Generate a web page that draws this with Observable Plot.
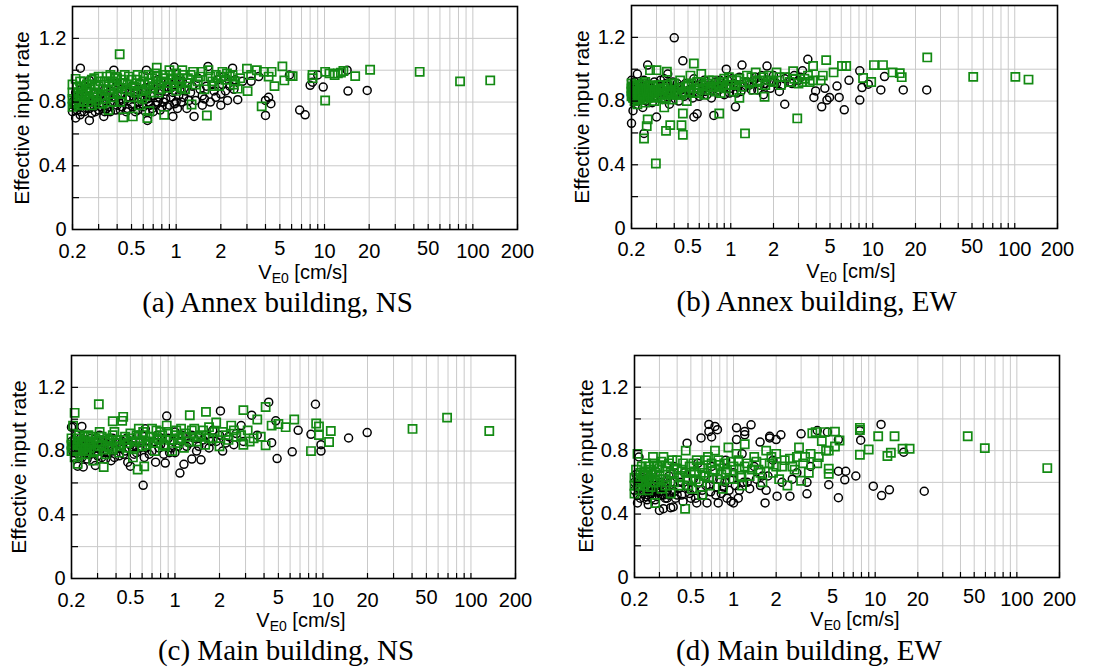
<!DOCTYPE html>
<html><head><meta charset="utf-8">
<script src="https://cdn.jsdelivr.net/npm/d3@7"></script>
<script src="https://cdn.jsdelivr.net/npm/@observablehq/plot@0.6"></script>
<style>
body{margin:0;background:#fff;}
#root{position:relative;width:1107px;height:670px;overflow:hidden;background:#fff;}
.p{position:absolute;}
.yt{position:absolute;font-family:"Liberation Sans",Arial,sans-serif;font-size:21px;white-space:nowrap;transform:translate(-50%,-50%) rotate(-90deg);line-height:21px;color:#000;}
.xt{position:absolute;font-family:"Liberation Sans",Arial,sans-serif;font-size:20px;white-space:nowrap;transform:translateX(-50%);line-height:16px;color:#000;}
.xt sub{font-size:14px;vertical-align:-4px;line-height:0;}
.cap{position:absolute;font-family:"Liberation Serif","Times New Roman",serif;font-size:29px;white-space:nowrap;transform:translateX(-50%);line-height:29px;color:#000;}
</style></head>
<body><div id="root"></div>
<script>
// ---- tick / grid values ----
const xGrid = [0.2,0.3,0.4,0.5,0.6,0.7,0.8,0.9,1,2,3,4,5,6,7,8,9,10,20,30,40,50,60,70,80,90,100,200];
const xLabelsLow = [0.2,1,2,10,20,100,200];
const xLabelsHigh = [0.5,5,50];
const yGrid = [0.2,0.4,0.6,0.8,1.0,1.2];
const yLabels = [0,0.4,0.8,1.2];
const captions = ["(a) Annex building, NS","(b) Annex building, EW","(c) Main building, NS","(d) Main building, EW"];
const yTitle = "Effective input rate";

// ---- data: [V_E0, effective input rate] ----
const annexNS_circle = [[0.20,0.74],[0.20,0.80],[0.21,0.70],[0.21,0.86],[0.22,0.77],[0.226,1.013],[0.23,0.82],[0.23,0.74],[0.24,0.79],[0.24,0.90],[0.25,0.76],[0.26,0.685],[0.26,0.936],[0.26,0.84],[0.27,0.73],[0.27,0.80],[0.28,0.77],[0.29,0.86],[0.30,0.75],[0.30,0.82],[0.325,0.71],[0.32,0.79],[0.33,0.88],[0.34,0.76],[0.35,0.83],[0.36,0.74],[0.37,0.80],[0.38,1.00],[0.38,0.86],[0.40,0.78],[0.40,0.92],[0.42,0.75],[0.42,0.84],[0.44,0.80],[0.45,0.88],[0.47,0.76],[0.48,0.83],[0.50,0.79],[0.50,0.90],[0.53,0.74],[0.53,0.85],[0.56,0.80],[0.57,0.92],[0.60,0.77],[0.60,0.86],[0.63,1.00],[0.64,0.685],[0.64,0.82],[0.67,0.78],[0.67,0.90],[0.70,0.74],[0.71,0.84],[0.75,0.80],[0.75,0.94],[0.80,0.77],[0.80,0.87],[0.85,0.82],[0.88,0.92],[0.90,0.78],[0.95,0.71],[0.95,0.86],[0.97,1.02],[1.0,0.80],[1.0,0.94],[1.02,0.76],[1.06,0.88],[1.12,0.83],[1.18,0.76],[1.2,0.92],[1.25,0.86],[1.32,0.71],[1.35,0.81],[1.4,0.95],[1.5,0.84],[1.5,0.78],[1.6,0.90],[1.64,1.024],[1.7,0.80],[1.8,0.87],[1.9,0.94],[2.0,0.78],[2.0,0.85],[2.1,0.96],[2.22,0.81],[2.3,0.90],[2.4,1.013],[2.6,0.815],[2.8,0.93],[3.2,0.93],[3.6,0.96],[4.0,0.716],[4.0,0.81],[4.35,0.79],[4.2,0.83],[5.8,0.97],[6.8,0.75],[7.4,0.72],[8.0,0.905],[8.3,0.925],[9.0,0.97],[9.8,0.894],[14.2,1.0],[14.4,0.869],[19.4,0.873],
 [0.205,0.78],[0.21,0.82],[0.215,0.75],[0.22,0.84],[0.225,0.72],[0.23,0.88],[0.235,0.78],[0.24,0.74],[0.245,0.83],[0.25,0.80],[0.255,0.87],[0.26,0.76],[0.265,0.81],[0.275,0.85],[0.285,0.74],[0.29,0.80],[0.31,0.77],[0.31,0.85],[0.33,0.74],[0.34,0.82],[0.35,0.77],[0.36,0.87],[0.39,0.75],[0.39,0.83],[0.41,0.80],[0.43,0.77],[0.43,0.88],[0.46,0.74],[0.46,0.82],[0.49,0.86],[0.51,0.77],[0.52,0.82],[0.55,0.75],[0.55,0.88],[0.58,0.83],[0.59,0.79],[0.62,0.74],[0.62,0.89],[0.65,0.80],[0.68,0.84],[0.69,0.76],[0.72,0.88],[0.73,0.78],[0.77,0.83],[0.78,0.75],[0.82,0.80],[0.83,0.89],[0.87,0.77],[0.92,0.83],[0.93,0.89],[0.98,0.79],[1.04,0.84],[1.08,0.80],[1.1,0.93],[1.15,0.87],[1.22,0.81],[1.28,0.90],[1.45,0.88],[1.55,0.82],[1.75,0.91],[1.85,0.83],[2.05,0.91],[2.15,0.87],[2.5,0.94],[2.45,0.88]];
const annexNS_square = [[0.20,0.82],[0.20,0.77],[0.21,0.946],[0.21,0.80],[0.22,0.86],[0.22,0.78],[0.23,0.90],[0.23,0.83],[0.24,0.80],[0.24,0.93],[0.25,0.87],[0.26,0.82],[0.26,0.91],[0.27,0.78],[0.28,0.95],[0.28,0.86],[0.29,0.81],[0.30,0.90],[0.30,0.96],[0.31,0.84],[0.32,0.79],[0.33,0.93],[0.34,0.87],[0.35,0.75],[0.36,0.97],[0.37,0.83],[0.38,0.90],[0.40,0.86],[0.40,0.95],[0.416,1.10],[0.42,0.80],[0.44,0.705],[0.44,0.92],[0.46,0.88],[0.48,0.96],[0.49,0.83],[0.51,0.71],[0.52,0.90],[0.54,0.94],[0.56,0.78],[0.58,0.87],[0.60,0.96],[0.62,0.84],[0.64,0.70],[0.66,0.743],[0.66,0.92],[0.70,0.89],[0.72,0.98],[0.74,1.016],[0.76,0.86],[0.80,0.93],[0.83,0.72],[0.84,0.97],[0.88,0.89],[0.90,1.0],[0.95,0.94],[1.0,0.87],[1.0,0.98],[1.05,0.92],[1.1,1.0],[1.15,0.88],[1.2,0.95],[1.27,0.785],[1.3,0.99],[1.35,0.91],[1.45,0.96],[1.55,0.88],[1.61,0.716],[1.65,1.0],[1.75,0.93],[1.85,0.97],[1.95,0.90],[2.05,0.99],[2.15,0.94],[2.3,0.96],[2.45,0.91],[2.6,0.884],[2.7,0.95],[3.0,1.01],[3.03,0.869],[3.2,0.97],[3.5,1.0],[3.77,0.773],[3.9,0.99],[4.2,0.96],[4.4,0.99],[4.6,0.90],[5.2,1.024],[5.36,0.936],[5.9,0.963],[6.1,0.963],[8.3,0.97],[8.3,0.95],[10.1,0.99],[10.1,0.81],[10.8,0.98],[11.7,0.97],[12.3,0.98],[12.9,0.985],[13.4,0.995],[16.1,0.963],[20.3,1.003],[43.8,0.99],[82,0.93],[131,0.936],
 [0.20,0.86],[0.20,0.91],[0.205,0.79],[0.215,0.84],[0.215,0.89],[0.225,0.81],[0.225,0.93],[0.235,0.86],[0.235,0.78],[0.245,0.84],[0.25,0.91],[0.255,0.80],[0.265,0.88],[0.27,0.94],[0.275,0.83],[0.285,0.90],[0.29,0.85],[0.30,0.79],[0.31,0.93],[0.32,0.88],[0.33,0.82],[0.34,0.96],[0.35,0.90],[0.36,0.85],[0.37,0.93],[0.38,0.80],[0.39,0.96],[0.41,0.89],[0.43,0.94],[0.43,0.85],[0.45,0.97],[0.47,0.91],[0.49,0.87],[0.50,0.94],[0.53,0.86],[0.55,0.97],[0.57,0.91],[0.59,0.82],[0.61,0.93],[0.63,0.88],[0.65,0.97],[0.68,0.86],[0.69,0.95],[0.73,0.91],[0.75,0.96],[0.78,0.88],[0.82,0.95],[0.86,0.92],[0.92,0.97],[0.97,0.90],[1.03,0.95],[1.08,0.89],[1.12,0.97],[1.18,0.92],[1.25,0.97],[1.4,0.93],[1.5,0.99],[1.7,0.96],[1.8,0.90],[2.0,0.96],[2.2,0.98],[2.4,0.97],[2.5,0.93]];
const annexEW_circle = [[0.20,0.93],[0.20,0.84],[0.20,0.66],[0.205,0.74],[0.21,0.88],[0.22,0.80],[0.22,0.97],[0.23,0.86],[0.24,0.76],[0.245,0.597],[0.25,0.90],[0.26,1.026],[0.26,0.83],[0.27,0.87],[0.28,0.79],[0.29,0.92],[0.30,0.85],[0.30,0.70],[0.32,0.89],[0.33,0.81],[0.34,0.94],[0.35,0.86],[0.36,0.97],[0.37,0.78],[0.38,0.88],[0.40,1.197],[0.40,0.84],[0.42,0.91],[0.43,0.80],[0.45,0.87],[0.46,1.053],[0.47,0.83],[0.50,0.90],[0.52,0.85],[0.55,0.70],[0.55,0.94],[0.58,0.72],[0.58,0.88],[0.60,0.83],[0.63,0.91],[0.66,0.86],[0.70,0.89],[0.73,0.82],[0.76,0.71],[0.78,0.92],[0.82,0.87],[0.86,0.90],[0.90,0.84],[0.93,1.0],[0.95,0.93],[1.0,0.88],[1.05,0.91],[1.08,0.764],[1.1,0.85],[1.15,0.95],[1.2,1.026],[1.25,0.89],[1.3,0.92],[1.4,0.87],[1.5,0.95],[1.6,0.90],[1.7,0.84],[1.8,1.02],[1.8,0.93],[1.9,0.88],[2.0,0.96],[2.1,0.91],[2.2,0.86],[2.4,0.78],[2.4,0.94],[2.6,0.92],[2.8,0.96],[3.0,0.93],[3.2,0.99],[3.49,1.062],[3.85,0.823],[3.96,0.864],[4.37,0.764],[4.6,0.88],[4.76,0.806],[4.96,0.823],[5.6,0.894],[5.8,0.823],[6.3,0.745],[6.8,0.93],[8.1,0.806],[8.1,0.99],[8.4,0.885],[9.3,0.906],[11.4,0.87],[12.1,0.954],[16.4,0.87],[24,0.87],
 [0.20,0.88],[0.205,0.81],[0.21,0.92],[0.215,0.85],[0.22,0.89],[0.225,0.83],[0.23,0.91],[0.235,0.87],[0.24,0.82],[0.245,0.93],[0.25,0.86],[0.255,0.80],[0.265,0.90],[0.27,0.84],[0.28,0.88],[0.29,0.83],[0.31,0.87],[0.32,0.93],[0.33,0.85],[0.35,0.91],[0.36,0.82],[0.38,0.84],[0.39,0.92],[0.41,0.86],[0.44,0.89],[0.46,0.85],[0.48,0.91],[0.51,0.87],[0.54,0.82],[0.57,0.90],[0.62,0.86],[0.65,0.93],[0.68,0.84],[0.74,0.90],[0.80,0.86],[0.84,0.93],[0.88,0.88],[0.98,0.85],[1.02,0.94],[1.12,0.89],[1.18,0.86],[1.35,0.90],[1.45,0.93],[1.55,0.87],[1.65,0.96],[1.75,0.91],[1.95,0.92],[2.3,0.90],[2.5,0.95],[2.7,0.91],[3.1,0.95]];
const annexEW_square = [[0.20,0.88],[0.20,0.83],[0.205,0.86],[0.21,0.80],[0.21,0.90],[0.22,0.84],[0.22,0.78],[0.23,0.88],[0.23,0.82],[0.24,0.91],[0.245,0.565],[0.25,0.85],[0.25,0.79],[0.256,0.643],[0.26,0.685],[0.26,0.89],[0.27,0.994],[0.27,0.83],[0.28,0.87],[0.29,0.80],[0.297,0.408],[0.30,0.994],[0.30,0.86],[0.31,0.90],[0.32,0.82],[0.33,0.88],[0.34,0.76],[0.35,0.613],[0.355,0.984],[0.36,0.85],[0.375,0.649],[0.38,0.91],[0.39,0.81],[0.40,0.87],[0.42,0.84],[0.44,0.93],[0.45,0.649],[0.46,0.588],[0.46,0.722],[0.47,0.86],[0.49,0.80],[0.50,0.90],[0.52,0.96],[0.55,1.036],[0.55,0.85],[0.58,0.92],[0.60,0.88],[0.62,0.97],[0.65,0.84],[0.68,0.91],[0.72,0.87],[0.75,0.93],[0.80,0.89],[0.83,0.722],[0.85,0.85],[0.88,0.92],[0.92,0.88],[0.97,0.95],[1.0,0.90],[1.05,0.86],[1.1,0.93],[1.15,0.82],[1.2,0.89],[1.26,0.597],[1.3,0.96],[1.35,0.91],[1.45,0.87],[1.5,0.98],[1.6,0.93],[1.73,0.827],[1.75,0.90],[1.85,0.96],[2.0,0.92],[2.1,0.98],[2.25,0.90],[2.4,0.95],[2.6,0.92],[2.75,0.988],[2.94,0.691],[3.0,0.91],[3.3,0.94],[3.6,0.92],[3.8,1.02],[3.8,0.93],[4.3,0.93],[4.45,0.96],[4.7,1.057],[5.3,0.98],[6.07,1.02],[6.5,1.02],[8.55,0.945],[9.75,0.92],[10.2,1.026],[11.8,1.026],[13.8,0.98],[15.5,0.975],[16,0.95],[24.2,1.074],[51,0.952],[101,0.952],[125,0.935],
 [0.20,0.86],[0.20,0.91],[0.205,0.82],[0.205,0.89],[0.21,0.85],[0.215,0.88],[0.215,0.82],[0.22,0.90],[0.225,0.86],[0.225,0.81],[0.23,0.85],[0.235,0.90],[0.235,0.84],[0.24,0.86],[0.24,0.81],[0.245,0.88],[0.25,0.92],[0.255,0.86],[0.26,0.82],[0.265,0.87],[0.27,0.90],[0.275,0.85],[0.28,0.82],[0.285,0.89],[0.29,0.86],[0.30,0.83],[0.31,0.87],[0.32,0.90],[0.33,0.84],[0.34,0.88],[0.35,0.82],[0.36,0.90],[0.37,0.86],[0.38,0.84],[0.40,0.91],[0.41,0.85],[0.43,0.88],[0.45,0.84],[0.48,0.89],[0.51,0.86],[0.53,0.91],[0.56,0.88],[0.59,0.85],[0.63,0.90],[0.66,0.87],[0.70,0.93],[0.73,0.89],[0.78,0.86],[0.82,0.91],[0.86,0.89],[0.90,0.94],[0.95,0.90],[1.02,0.93],[1.08,0.90],[1.15,0.94],[1.25,0.92],[1.4,0.95],[1.55,0.92],[1.7,0.95],[1.9,0.93],[2.2,0.95],[2.8,0.94],[3.2,0.92],[3.5,0.96]];
const mainNS_circle = [[0.20,0.95],[0.20,0.82],[0.205,0.955],[0.21,0.76],[0.22,0.705],[0.22,0.86],[0.23,0.80],[0.235,0.955],[0.24,0.70],[0.25,0.84],[0.26,0.78],[0.27,0.88],[0.28,0.74],[0.29,0.71],[0.30,0.82],[0.31,0.90],[0.32,0.76],[0.34,0.85],[0.35,0.79],[0.37,0.74],[0.38,0.88],[0.40,0.81],[0.42,0.77],[0.44,0.86],[0.46,0.80],[0.48,0.73],[0.50,0.705],[0.50,0.84],[0.53,0.78],[0.56,0.90],[0.58,0.82],[0.61,0.585],[0.62,0.76],[0.63,0.94],[0.66,0.86],[0.70,0.80],[0.74,0.73],[0.76,0.90],[0.80,0.84],[0.84,0.78],[0.86,0.725],[0.88,1.02],[0.90,0.88],[0.95,0.82],[1.0,0.92],[1.0,0.79],[1.08,0.662],[1.1,0.86],[1.15,0.717],[1.2,0.83],[1.3,0.75],[1.3,0.90],[1.4,0.80],[1.5,0.745],[1.55,0.87],[1.7,0.82],[1.8,0.93],[1.9,0.86],[2.03,1.052],[2.1,0.80],[2.3,0.89],[2.5,0.84],[2.8,0.96],[2.9,0.86],[3.3,1.025],[3.6,0.90],[4.3,1.107],[4.5,0.853],[4.8,0.99],[4.9,0.753],[6.2,0.795],[6.8,0.93],[8.3,0.905],[8.9,1.094],[9.7,0.80],[9.7,0.84],[14.9,0.882],[19.9,0.916],
 [0.20,0.86],[0.205,0.79],[0.21,0.84],[0.215,0.90],[0.22,0.78],[0.225,0.82],[0.23,0.88],[0.235,0.76],[0.24,0.83],[0.245,0.79],[0.25,0.87],[0.255,0.75],[0.26,0.82],[0.265,0.86],[0.27,0.78],[0.28,0.83],[0.29,0.86],[0.30,0.77],[0.31,0.81],[0.32,0.87],[0.33,0.79],[0.34,0.75],[0.35,0.84],[0.36,0.88],[0.38,0.80],[0.39,0.76],[0.41,0.85],[0.43,0.82],[0.45,0.78],[0.47,0.88],[0.49,0.82],[0.52,0.86],[0.55,0.79],[0.57,0.85],[0.60,0.90],[0.64,0.82],[0.67,0.78],[0.72,0.86],[0.78,0.82],[0.82,0.88],[0.86,0.84],[0.92,0.79],[0.98,0.86],[1.05,0.83],[1.12,0.90],[1.25,0.85],[1.35,0.88],[1.45,0.83],[1.6,0.90],[1.75,0.86],[2.0,0.90],[2.2,0.85],[2.6,0.91]];
const mainNS_square = [[0.20,0.84],[0.20,0.80],[0.205,0.96],[0.21,1.04],[0.21,0.76],[0.22,0.88],[0.22,0.72],[0.23,0.82],[0.24,0.86],[0.25,0.78],[0.26,0.90],[0.27,0.84],[0.28,0.74],[0.29,0.88],[0.30,0.80],[0.306,1.094],[0.31,0.92],[0.32,0.84],[0.33,0.70],[0.34,0.78],[0.35,0.88],[0.36,0.82],[0.38,0.987],[0.38,0.90],[0.40,0.85],[0.42,0.79],[0.44,0.99],[0.447,1.015],[0.45,0.87],[0.47,0.82],[0.50,0.91],[0.52,0.76],[0.54,0.86],[0.56,0.684],[0.57,0.94],[0.60,0.83],[0.62,0.704],[0.63,0.90],[0.66,0.86],[0.70,0.94],[0.73,0.80],[0.76,0.88],[0.80,0.92],[0.84,0.84],[0.88,0.96],[0.92,0.87],[0.96,0.80],[1.0,0.90],[1.05,0.85],[1.1,0.94],[1.15,0.82],[1.2,0.89],[1.26,1.025],[1.3,0.93],[1.4,0.86],[1.5,0.90],[1.62,1.046],[1.6,0.84],[1.7,0.95],[1.8,0.88],[1.9,0.98],[2.0,0.83],[2.1,0.92],[2.3,0.87],[2.4,0.96],[2.6,0.89],[2.9,1.057],[2.9,0.84],[3.1,0.93],[3.4,0.88],[3.6,0.998],[4.1,1.077],[4.1,0.836],[4.5,0.96],[5.0,0.97],[5.6,0.95],[6.4,0.998],[8.3,0.80],[9.0,0.973],[9.4,0.955],[9.4,0.90],[11.0,0.857],[11.3,0.926],[40.3,0.939],[69,1.01],[133,0.926],
 [0.20,0.88],[0.205,0.82],[0.21,0.86],[0.215,0.80],[0.22,0.84],[0.225,0.90],[0.23,0.78],[0.235,0.86],[0.24,0.81],[0.245,0.89],[0.25,0.84],[0.255,0.80],[0.26,0.86],[0.265,0.82],[0.27,0.89],[0.28,0.85],[0.29,0.80],[0.30,0.86],[0.31,0.83],[0.32,0.89],[0.33,0.81],[0.34,0.86],[0.35,0.83],[0.37,0.87],[0.38,0.81],[0.39,0.92],[0.41,0.87],[0.43,0.83],[0.46,0.89],[0.48,0.85],[0.51,0.88],[0.53,0.82],[0.55,0.90],[0.58,0.86],[0.61,0.92],[0.64,0.84],[0.68,0.89],[0.71,0.85],[0.75,0.93],[0.78,0.87],[0.82,0.90],[0.86,0.83],[0.90,0.92],[0.98,0.87],[1.02,0.93],[1.08,0.88],[1.18,0.91],[1.25,0.86],[1.35,0.94],[1.45,0.89],[1.55,0.93],[1.7,0.88],[1.85,0.92],[2.2,0.90],[2.5,0.93],[2.8,0.90],[3.2,0.86],[3.8,0.89]];
const mainEW_circle = [[0.20,0.60],[0.21,0.47],[0.215,0.76],[0.22,0.55],[0.23,0.63],[0.24,0.51],[0.25,0.46],[0.25,0.58],[0.26,0.53],[0.27,0.66],[0.28,0.52],[0.29,0.56],[0.30,0.423],[0.30,0.54],[0.31,0.60],[0.32,0.434],[0.32,0.52],[0.33,0.57],[0.34,0.50],[0.35,0.64],[0.36,0.44],[0.37,0.55],[0.375,0.445],[0.38,0.70],[0.40,0.52],[0.42,0.60],[0.44,0.48],[0.45,0.66],[0.47,0.847],[0.48,0.56],[0.50,0.50],[0.52,0.62],[0.55,0.47],[0.56,0.72],[0.59,0.88],[0.60,0.55],[0.62,0.64],[0.65,0.47],[0.67,0.965],[0.67,0.92],[0.68,0.58],[0.70,0.886],[0.70,0.70],[0.74,0.953],[0.75,0.52],[0.77,0.932],[0.78,0.47],[0.80,0.62],[0.85,0.57],[0.88,0.74],[0.90,0.50],[0.96,0.48],[1.0,0.47],[1.0,0.66],[1.05,0.944],[1.05,0.87],[1.1,0.55],[1.15,0.78],[1.2,0.92],[1.2,0.90],[1.25,0.60],[1.33,0.963],[1.4,0.70],[1.54,0.854],[1.6,0.64],[1.67,0.47],[1.7,0.55],[1.8,0.89],[1.8,0.88],[1.9,0.74],[2.0,0.87],[2.03,0.513],[2.16,0.90],[2.5,0.513],[2.6,0.62],[3.0,0.906],[3.3,0.60],[3.3,0.528],[3.5,0.70],[3.9,0.927],[4.6,0.917],[4.7,0.585],[5.5,0.87],[5.5,0.67],[5.5,0.503],[6.1,0.616],[6.2,0.67],[7.3,0.64],[7.8,0.925],[7.9,0.866],[9.7,0.576],[11.0,0.965],[11.1,0.517],[12.6,0.553],[15.9,0.79],[22.2,0.544],
 [0.20,0.55],[0.205,0.65],[0.21,0.52],[0.215,0.60],[0.22,0.50],[0.225,0.57],[0.23,0.53],[0.235,0.62],[0.24,0.55],[0.245,0.49],[0.25,0.52],[0.255,0.60],[0.26,0.56],[0.265,0.50],[0.27,0.54],[0.275,0.58],[0.28,0.49],[0.285,0.55],[0.29,0.51],[0.30,0.58],[0.31,0.52],[0.32,0.56],[0.33,0.50],[0.34,0.55],[0.35,0.52],[0.36,0.60],[0.38,0.54],[0.39,0.50],[0.41,0.56],[0.43,0.52],[0.46,0.58],[0.49,0.53],[0.52,0.56],[0.54,0.50],[0.57,0.60],[0.61,0.52],[0.64,0.58],[0.69,0.54],[0.72,0.62],[0.76,0.57],[0.82,0.53],[0.87,0.60],[0.93,0.55],[0.98,0.62],[1.03,0.58],[1.08,0.50],[1.18,0.60],[1.3,0.56],[1.45,0.62],[1.55,0.58],[1.75,0.64],[2.2,0.60],[2.8,0.66]];
const mainEW_square = [[0.20,0.63],[0.20,0.53],[0.21,0.78],[0.21,0.58],[0.22,0.66],[0.23,0.60],[0.24,0.72],[0.25,0.55],[0.25,0.64],[0.26,0.68],[0.27,0.76],[0.28,0.47],[0.28,0.60],[0.29,0.70],[0.30,0.64],[0.31,0.56],[0.32,0.76],[0.33,0.67],[0.34,0.60],[0.35,0.72],[0.36,0.53],[0.38,0.66],[0.40,0.74],[0.41,0.58],[0.43,0.68],[0.455,0.433],[0.46,0.80],[0.47,0.62],[0.49,0.70],[0.51,0.56],[0.53,0.66],[0.55,0.74],[0.57,0.60],[0.60,0.52],[0.60,0.69],[0.63,0.64],[0.66,0.76],[0.68,0.58],[0.71,0.67],[0.74,0.80],[0.77,0.62],[0.80,0.71],[0.84,0.56],[0.88,0.66],[0.92,0.82],[0.96,0.73],[1.0,0.62],[1.05,0.78],[1.1,0.68],[1.15,0.58],[1.2,0.84],[1.25,0.72],[1.3,0.64],[1.4,0.76],[1.5,0.68],[1.6,0.60],[1.7,0.80],[1.8,0.72],[1.9,0.66],[2.0,0.78],[2.1,0.62],[2.2,0.70],[2.4,0.58],[2.5,0.75],[2.7,0.68],[2.9,0.82],[3.0,0.61],[3.2,0.76],[3.4,0.66],[3.6,0.91],[3.8,0.917],[3.9,0.72],[4.2,0.86],[4.4,0.917],[4.5,0.80],[4.7,0.80],[4.7,0.686],[4.7,0.654],[5.2,0.92],[5.2,0.826],[5.6,0.864],[7.8,0.944],[7.8,0.93],[7.8,0.774],[9.0,0.807],[10.5,0.891],[12.2,0.766],[12.9,0.787],[13.7,0.891],[15.6,0.812],[17.5,0.812],[45,0.891],[59.4,0.816],[164,0.69],
 [0.20,0.58],[0.205,0.68],[0.21,0.62],[0.215,0.55],[0.22,0.60],[0.225,0.70],[0.23,0.64],[0.235,0.58],[0.24,0.66],[0.245,0.61],[0.25,0.70],[0.255,0.62],[0.26,0.57],[0.265,0.65],[0.27,0.60],[0.275,0.72],[0.28,0.66],[0.29,0.62],[0.30,0.69],[0.31,0.73],[0.32,0.62],[0.33,0.58],[0.34,0.70],[0.36,0.66],[0.37,0.74],[0.38,0.60],[0.40,0.68],[0.42,0.64],[0.44,0.72],[0.46,0.66],[0.48,0.58],[0.50,0.66],[0.52,0.72],[0.54,0.62],[0.58,0.70],[0.62,0.66],[0.64,0.74],[0.67,0.63],[0.70,0.72],[0.74,0.68],[0.78,0.74],[0.82,0.65],[0.86,0.72],[0.90,0.68],[0.94,0.62],[1.0,0.70],[1.08,0.74],[1.12,0.64],[1.2,0.70],[1.35,0.68],[1.45,0.73],[1.55,0.66],[1.65,0.72],[1.85,0.76],[2.0,0.70],[2.3,0.74],[2.6,0.70],[2.8,0.76],[3.1,0.72],[3.5,0.78],[4.0,0.76]];

const seriesBlack = [annexNS_circle, annexEW_circle, mainNS_circle, mainEW_circle];
const seriesGreen = [annexNS_square, annexEW_square, mainNS_square, mainEW_square];

// ---- layout (pixels) ----
const layout = [
  {left:0,   top:0,   W:553, H:262, mL:72, mR:36, mT:6,  mB:33, dyLow:14, dyHigh:11, yt:[21,117.5], xt:[303,264], cap:[277.5,288]},
  {left:560, top:0,   W:547, H:261, mL:71, mR:50, mT:5,  mB:33, dyLow:13, dyHigh:10, yt:[581,116.5], xt:[851,263], cap:[816.7,287]},
  {left:0,   top:340, W:553, H:271, mL:71, mR:38, mT:15, mB:33, dyLow:14, dyHigh:11, yt:[18,467],   xt:[301,612], cap:[286,636]},
  {left:560, top:340, W:547, H:270, mL:74, mR:48, mT:15, mB:33, dyLow:14, dyHigh:11, yt:[585,466],  xt:[855,611], cap:[809,636]}
];

const root = document.getElementById("root");
const GREEN = "#138a13";
const GRID = "#c9c9c9";
const FONT = '"Liberation Sans", Arial, sans-serif';

layout.forEach((L, i) => {
  const fw = L.W - L.mL - L.mR, fh = L.H - L.mT - L.mB;
  const decade = fw / 3;
  const yTickEnd = 0.2 * Math.pow(10, 7 / decade);
  const xTickEnd = 5 / fh * 1.4;
  const svg = Plot.plot({
    width: L.W, height: L.H,
    marginLeft: L.mL, marginRight: L.mR, marginTop: L.mT, marginBottom: L.mB,
    x: {type: "log", domain: [0.2, 200], axis: null},
    y: {domain: [0, 1.4], axis: null},
    style: {fontFamily: FONT, fontSize: "20px", background: "transparent", color: "black", overflow: "visible", maxWidth: "none"},
    marks: [
      Plot.ruleX(xGrid, {stroke: GRID, strokeWidth: 1}),
      Plot.ruleY(yGrid, {stroke: GRID, strokeWidth: 1}),
      Plot.dot(seriesBlack[i], {x: d => d[0], y: d => d[1], r: 4, stroke: "black", strokeWidth: 1.5, fill: "none"}),
      Plot.dot(seriesGreen[i], {x: d => d[0], y: d => d[1], r: 4.6, symbol: "square", stroke: GREEN, strokeWidth: 1.7, fill: "none"}),
      Plot.ruleX(xGrid, {y1: 0, y2: xTickEnd, stroke: "black", strokeWidth: 1.2}),
      Plot.ruleY(yGrid, {x1: 0.2, x2: yTickEnd, stroke: "black", strokeWidth: 1.2}),
      Plot.frame({stroke: "black", strokeWidth: 1.6}),
      Plot.text(xLabelsLow, {x: d => d, frameAnchor: "bottom", lineAnchor: "top", dy: L.dyLow, text: d => String(d), fontSize: 20, fill: "black"}),
      Plot.text(xLabelsHigh, {x: d => d, frameAnchor: "bottom", lineAnchor: "top", dy: L.dyHigh, text: d => String(d), fontSize: 20, fill: "black"}),
      Plot.text(yLabels, {y: d => d, frameAnchor: "left", textAnchor: "end", dx: -6, text: d => String(d), fontSize: 20, fill: "black"})
    ]
  });
  const div = document.createElement("div");
  div.className = "p";
  div.style.left = L.left + "px"; div.style.top = L.top + "px";
  div.style.width = L.W + "px"; div.style.height = L.H + "px";
  div.appendChild(svg);
  root.appendChild(div);

  const yt = document.createElement("div");
  yt.className = "yt"; yt.textContent = yTitle;
  yt.style.left = L.yt[0] + "px"; yt.style.top = L.yt[1] + "px";
  root.appendChild(yt);

  const xt = document.createElement("div");
  xt.className = "xt";
  xt.innerHTML = "V<sub>E0</sub> [cm/s]";
  xt.style.left = L.xt[0] + "px"; xt.style.top = L.xt[1] + "px";
  root.appendChild(xt);

  const cap = document.createElement("div");
  cap.className = "cap"; cap.textContent = captions[i];
  cap.style.left = L.cap[0] + "px"; cap.style.top = L.cap[1] + "px";
  root.appendChild(cap);
});
</script>
</body></html>
